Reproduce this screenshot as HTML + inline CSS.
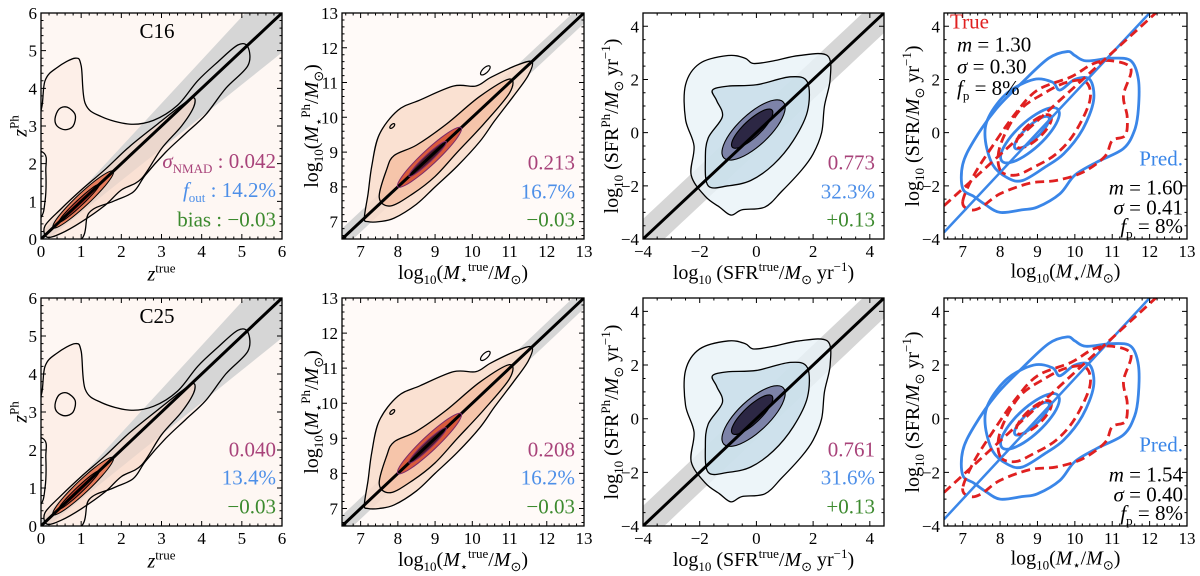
<!DOCTYPE html>
<html><head><meta charset="utf-8">
<style>
body{margin:0;background:#fff;}
#root{position:relative;width:1200px;height:576px;overflow:hidden;font-family:"Liberation Serif",serif;color:#000;}
svg{position:absolute;left:0;top:0;}
svg text{font-family:"Liberation Serif",serif;}
.lab{position:absolute;font-size:20px;white-space:nowrap;line-height:1;}
.lab sub,.lab sup{font-size:13px;}
.ylab{transform:translate(-50%,-50%) rotate(-90deg);}
.xlab{transform:translate(-50%,-50%);}
.st{position:absolute;font-size:21px;white-space:nowrap;line-height:1;transform:translateY(-50%);}
.st sub{font-size:13px;}
</style></head><body>
<div id="root">
<svg id="plot" width="1200" height="576"></svg>
</div>
<script>
// ---------- data ----------
const zOuter=[[0.9,-0.1],[1.2,0.7],[1.8,1.0],[2.3,1.25],[2.6,1.7],[3.1,2.3],[3.6,2.8],[4.1,3.3],[4.6,4.0],[5.15,4.6],[5.15,5.1],[4.9,5.15],[4.4,4.7],[3.9,4.2],[3.4,3.55],[2.8,3.15],[2.2,3.05],[1.5,3.25],[1.1,3.6],[1.0,4.6],[0.85,4.8],[0.4,4.55],[0.1,4.2],[-0.05,3.3],[-0.7,3.0],[-0.7,2.4],[0.05,2.3],[0.12,1.8],[0.1,1.0],[-0.05,0.5],[-0.7,0.0],[-0.7,-0.4]];
const zIsland=[[0.35,3.2],[0.45,3.45],[0.65,3.5],[0.85,3.3],[0.8,3.0],[0.6,2.9],[0.4,3.0]];
const zMid=[[0.1,0.35],[0.5,0.8],[1.0,1.3],[1.6,1.85],[2.2,2.45],[2.9,3.05],[3.5,3.55],[3.8,3.75],[3.8,3.5],[3.5,3.0],[3.0,2.4],[2.5,1.6],[2.0,1.3],[1.6,0.9],[1.0,0.45],[0.5,0.15],[0.15,0.05]];
const zEll=[[1.05,1.05,0.75,0.16],[0.95,0.95,0.5,0.08]];
const mOuter=[[7.1,7.1],[7.2,7.8],[7.3,8.6],[7.5,9.5],[8.0,10.2],[8.6,10.5],[9.5,10.9],[10.1,10.9],[10.5,11.15],[11.2,11.5],[11.6,11.6],[11.5,11.2],[11.1,10.6],[10.6,9.9],[10.2,9.3],[9.6,8.6],[9.0,8.0],[8.5,7.5],[7.9,7.1],[7.5,7.0],[7.2,7.0]];
const mMid=[[7.5,7.7],[7.7,8.5],[7.9,8.9],[8.5,9.2],[9.3,9.8],[10.2,10.6],[11.0,11.1],[11.0,10.7],[10.3,9.8],[9.6,9.0],[9.0,8.3],[8.4,7.8],[7.8,7.45]];
const mEll=[[8.85,8.85,0.85,0.2],[8.8,8.8,0.5,0.1]];
const mBlobs=[[10.35,11.35,0.12,0.07],[7.85,9.75,0.06,0.04]];
const sOuter=[[-0.9,-3.1],[-1.3,-2.8],[-1.8,-2.4],[-2.3,-1.6],[-2.2,-0.5],[-2.5,0.5],[-2.5,1.8],[-2.0,2.6],[-1.0,2.9],[-0.4,2.8],[-0.1,2.6],[0.6,2.7],[1.5,2.9],[2.5,2.9],[2.6,2.0],[2.4,1.0],[2.3,0.0],[2.0,-0.8],[1.6,-1.4],[0.9,-2.2],[0.3,-2.8],[-0.5,-2.9]];
const sMid=[[-1.7,-2.0],[-1.8,-1.0],[-1.7,-0.2],[-1.2,0.6],[-1.4,1.2],[-1.55,1.6],[-1.0,1.75],[0.0,1.8],[1.2,2.1],[1.8,1.9],[1.8,0.8],[1.3,-0.3],[0.6,-1.2],[-0.2,-1.8],[-1.0,-2.0]];
const sEll=[[-0.1,0.1,1.05,0.55],[-0.15,0.15,0.7,0.3]];
const bOuter=[[7.0,-2.1],[7.0,-1.2],[7.3,-0.3],[7.9,0.9],[8.6,1.9],[9.3,2.8],[9.8,3.05],[10.0,2.9],[10.3,2.7],[11.0,2.8],[11.5,2.7],[11.7,2.0],[11.7,0.9],[11.6,0.1],[11.3,-0.6],[10.6,-1.1],[10.0,-1.6],[9.6,-2.3],[9.0,-2.8],[8.6,-2.9],[8.0,-3.0],[7.6,-2.7],[7.3,-2.4]];
const bMid=[[7.8,-1.2],[7.6,-0.2],[7.7,0.6],[8.2,1.5],[8.9,2.0],[9.4,1.9],[9.6,1.6],[10.0,2.0],[10.4,2.0],[10.5,1.2],[10.2,0.1],[9.7,-0.8],[9.2,-1.3],[8.6,-1.8],[8.2,-1.7]];
const bEll=[[8.8,-0.1,0.75,0.35],[8.85,0.0,0.45,0.18]];
const rOuter=[[7.0,-2.6],[7.2,-2.9],[7.5,-2.8],[8.0,-2.3],[8.8,-1.9],[9.5,-1.8],[10.2,-1.5],[10.8,-0.9],[11.0,-0.3],[11.35,-0.1],[11.4,0.6],[11.3,1.4],[11.5,2.4],[11.0,2.7],[10.5,2.6],[9.9,2.1],[9.0,1.6],[8.4,0.7],[7.8,-0.5],[7.3,-1.6]];
const rMid=[[8.0,-1.4],[8.0,-0.5],[8.5,0.8],[9.2,1.5],[9.8,1.9],[10.3,1.9],[10.4,1.2],[10.0,0.0],[9.5,-0.8],[8.9,-1.3],[8.4,-1.6]];
const rEll=[[8.9,0.05,0.45,0.22]];
const predLine=[1.5,9.0,0.0];
const trueLine=[1.28,9.0,0.45];
const bandHalf=[0.15,0.3,0.75];
const xTicks=[[0,1,2,3,4,5,6],[7,8,9,10,11,12,13],[-4,-2,0,2,4],[7,8,9,10,11,12,13]];
const yTicks=[[0,1,2,3,4,5,6],[7,8,9,10,11,12,13],[-4,-2,0,2,4],[-4,-2,0,2,4]];
const statsRow=[[["0.042","14.2%","−0.03"],["0.213","16.7%","−0.03"],["0.773","32.3%","+0.13"]],[["0.040","13.4%","−0.03"],["0.208","16.2%","−0.03"],["0.761","31.6%","+0.13"]]];
const predStats=[["1.60","0.41","8%"],["1.54","0.40","8%"]];
const trueStats=["1.30","0.30","8%"];
const fieldNames=["C16","C25"];

// ---------- layout ----------
const cols=[[41,282],[342,584],[643,884],[944,1187]];
const rows=[[13,239],[298,526]];
const ranges=[[0,6,0,6,0.2],[6.5,13,6.5,13,0.2],[-4,4.5,-4,4.5,0.5],[6.5,13,-4,4.5,0.5]];
const xminor=[0.2,0.2,0.5,0.2];
const svg=document.getElementById('plot');
const root=document.getElementById('root');
const NS='http://www.w3.org/2000/svg';
function mk(tag,at,parent){const e=document.createElementNS(NS,tag);for(const k in at)e.setAttribute(k,at[k]);(parent||svg).appendChild(e);return e;}
function P(r,c){const [x0,x1]=cols[c],[y0,y1]=rows[r],g=ranges[c];return{x0,x1,y0,y1,sx:v=>x0+(v-g[0])/(g[1]-g[0])*(x1-x0),sy:v=>y1-(v-g[2])/(g[3]-g[2])*(y1-y0),g};}
function smooth(pts){const n=pts.length;let d=`M${pts[0][0]},${pts[0][1]}`;for(let i=0;i<n;i++){const p0=pts[(i-1+n)%n],p1=pts[i],p2=pts[(i+1)%n],p3=pts[(i+2)%n];d+=`C${p1[0]+(p2[0]-p0[0])/6},${p1[1]+(p2[1]-p0[1])/6} ${p2[0]-(p3[0]-p1[0])/6},${p2[1]-(p3[1]-p1[1])/6} ${p2[0]},${p2[1]}`;}return d+'Z';}
function toPx(p,arr){return arr.map(q=>[p.sx(q[0]),p.sy(q[1])]);}
function ellPx(p,e,slope){const [cx,cy,a,b]=e;const c=[p.sx(cx),p.sy(cy)];const ux=p.sx(cx+a)-c[0],uy=p.sy(cy+a*slope)-c[1];const L=Math.hypot(ux,uy);const nx=-uy/L,ny=ux/L;const wb=b*(p.x1-p.x0)/(p.g[1]-p.g[0]);const out=[];for(let i=0;i<24;i++){const t=i/24*2*Math.PI;out.push([c[0]+Math.cos(t)*ux+Math.sin(t)*nx*wb,c[1]+Math.cos(t)*uy+Math.sin(t)*ny*wb]);}return out;}
function path(g,d,at,name){const e=mk('path',Object.assign({d},at),g);return e;}

function frame(p,r,c){
  const g=mk('g',{});
  mk('rect',{x:p.x0,y:p.y0,width:p.x1-p.x0,height:p.y1-p.y0,fill:'none',stroke:'#000','stroke-width':1.3},g);
  const gr=p.g;let d='';
  for(let v=Math.ceil(gr[0]/xminor[c]-1e-6)*xminor[c];v<=gr[1]+1e-6;v+=xminor[c]){const x=p.sx(v);const maj=xTicks[c].some(t=>Math.abs(t-v)<1e-6);const L=maj?5:2.5;d+=`M${x},${p.y1}v${-L}M${x},${p.y0}v${L}`;}
  for(let v=Math.ceil(gr[2]/gr[4]-1e-6)*gr[4];v<=gr[3]+1e-6;v+=gr[4]){const y=p.sy(v);const maj=yTicks[c].some(t=>Math.abs(t-v)<1e-6);const L=maj?5:2.5;d+=`M${p.x0},${y}h${L}M${p.x1},${y}h${-L}`;}
  mk('path',{d,stroke:'#000','stroke-width':1,fill:'none'},g);
  xTicks[c].forEach(v=>{const t=mk('text',{x:p.sx(v),y:p.y1+18,'text-anchor':'middle','font-size':17,style:'font-family:"Liberation Serif",serif'},g);t.textContent=String(v).replace('-','−');});
  yTicks[c].forEach(v=>{const t=mk('text',{x:p.x0-4,y:p.sy(v)+6,'text-anchor':'end','font-size':17,style:'font-family:"Liberation Serif",serif'},g);t.textContent=String(v).replace('-','−');});
}
function clipG(p,id){const cp=mk('clipPath',{id});mk('rect',{x:p.x0,y:p.y0,width:p.x1-p.x0,height:p.y1-p.y0},cp);const g=mk('g',{'clip-path':`url(#${id})`});return g;}
function band(g,p,c){const gr=p.g,h=bandHalf[c];const lo=[],hi=[];for(let i=0;i<=20;i++){const v=gr[0]+(gr[1]-gr[0])*i/20;const w=c===0?h*(1+v):h;hi.push([p.sx(v),p.sy(v+w)]);lo.unshift([p.sx(v),p.sy(v-w)]);}
  const e=mk('polygon',{points:hi.concat(lo).map(q=>q.join(',')).join(' '),fill:'#d6d6d6'},g);}
function oneToOne(g,p){const gr=p.g;const e=mk('line',{x1:p.sx(gr[0]),y1:p.sy(gr[0]),x2:p.sx(gr[1]),y2:p.sy(gr[1]),stroke:'#000','stroke-width':3},g);}

function html(cls,x,y,inner,name,style){const d=document.createElement('div');d.className=cls;d.style.left=x+'px';d.style.top=y+'px';if(style)d.style.cssText+=style;d.innerHTML=inner;root.appendChild(d);return d;}

const yl=['<i>z</i><sup>Ph</sup>','log<sub>10</sub>(<i>M</i><sub>⋆</sub><sup>Ph</sup>/<i>M</i><sub>⊙</sub>)','log<sub>10</sub> (SFR<sup>Ph</sup>/<i>M</i><sub>⊙</sub> yr<sup>−1</sup>)','log<sub>10</sub> (SFR/<i>M</i><sub>⊙</sub> yr<sup>−1</sup>)'];
const xl=['<i>z</i><sup>true</sup>','log<sub>10</sub>(<i>M</i><sub>⋆</sub><sup>true</sup>/<i>M</i><sub>⊙</sub>)','log<sub>10</sub> (SFR<sup>true</sup>/<i>M</i><sub>⊙</sub> yr<sup>−1</sup>)','log<sub>10</sub>(<i>M</i><sub>⋆</sub>/<i>M</i><sub>⊙</sub>)'];
const yOff=[22,30,31,31];
const statCols=['#a8437a','#4d8fe8','#3c8a2e'];

for(let r=0;r<2;r++){for(let c=0;c<4;c++){
  const p=P(r,c);const g=clipG(p,`clip${r}${c}`);
  if(c===0){
    mk('rect',{x:p.x0,y:p.y0,width:p.x1-p.x0,height:p.y1-p.y0,fill:'#fef7f3'},g);
    path(g,smooth(toPx(p,zOuter)),{fill:'#fdefe8'},'density-outer');
    band(g,p,c);
    path(g,smooth(toPx(p,zMid)),{fill:'#f8d7c6','fill-opacity':0.6},'density-mid');
    path(g,smooth(ellPx(p,zEll[0],1)),{fill:'#e67c5c'},'density-inner');
    path(g,smooth(ellPx(p,zEll[1],1)),{fill:'#b53a2c'},'density-core');
    oneToOne(g,p);
    [zOuter,zIsland,zMid].forEach(a=>path(g,smooth(toPx(p,a)),{fill:'none',stroke:'#000','stroke-width':1.3},'contour'));
    zEll.forEach(e=>path(g,smooth(ellPx(p,e,1)),{fill:'none',stroke:'#000','stroke-width':1},'contour'));
  } else if(c===1){
    mk('rect',{x:p.x0,y:p.y0,width:p.x1-p.x0,height:p.y1-p.y0,fill:'#fffaf8'},g);
    band(g,p,c);
    path(g,smooth(toPx(p,mOuter)),{fill:'#f9dccb','fill-opacity':0.85},'density-outer');
    path(g,smooth(toPx(p,mMid)),{fill:'#f4c0a3','fill-opacity':0.85},'density-mid');
    path(g,smooth(ellPx(p,mEll[0],1)),{fill:'#d95a3c'},'density-inner');
    path(g,smooth(ellPx(p,mEll[1],1)),{fill:'#4a1a28'},'density-core');
    oneToOne(g,p);
    [mOuter,mMid].forEach(a=>path(g,smooth(toPx(p,a)),{fill:'none',stroke:'#000','stroke-width':1.3},'contour'));
    mEll.forEach(e=>path(g,smooth(ellPx(p,e,1)),{fill:'none',stroke:'#7a2a6a','stroke-width':1},'contour'));
    mBlobs.forEach(e=>path(g,smooth(ellPx(p,e,1)),{fill:'none',stroke:'#000','stroke-width':1.2},'contour-blob'));
  } else if(c===2){
    band(g,p,c);
    path(g,smooth(toPx(p,sOuter)),{fill:'#e9f2f7','fill-opacity':0.8},'density-outer');
    path(g,smooth(toPx(p,sMid)),{fill:'#c6dce8','fill-opacity':0.8},'density-mid');
    path(g,smooth(ellPx(p,sEll[0],1)),{fill:'#7d83a8'},'density-inner');
    path(g,smooth(ellPx(p,sEll[1],1)),{fill:'#2c2744'},'density-core');
    oneToOne(g,p);
    [sOuter,sMid].forEach(a=>path(g,smooth(toPx(p,a)),{fill:'none',stroke:'#000','stroke-width':1.3},'contour'));
    sEll.forEach(e=>path(g,smooth(ellPx(p,e,1)),{fill:'none',stroke:'#000','stroke-width':1.1},'contour'));
  } else {
    const gr=p.g;
    const ln=(L,at,name)=>{const e=mk('line',Object.assign({x1:p.sx(gr[0]),y1:p.sy(L[2]+L[0]*(gr[0]-L[1])),x2:p.sx(gr[1]),y2:p.sy(L[2]+L[0]*(gr[1]-L[1]))},at),g);};
    const blue={fill:'none',stroke:'#3a86e8','stroke-width':2.8};
    const red={fill:'none',stroke:'#e02020','stroke-width':2.8,'stroke-dasharray':'9 5'};
    [bOuter,bMid].forEach(a=>path(g,smooth(toPx(p,a)),blue,'pred-contour'));
    bEll.forEach(e=>path(g,smooth(ellPx(p,e,1.3)),blue,'pred-contour'));
    [rOuter,rMid].forEach(a=>path(g,smooth(toPx(p,a)),red,'true-contour'));
    rEll.forEach(e=>path(g,smooth(ellPx(p,e,1.3)),red,'true-contour'));
    ln(predLine,{stroke:'#3a86e8','stroke-width':2.5},'pred-fit-line');
    ln(trueLine,{stroke:'#e02020','stroke-width':2.8,'stroke-dasharray':'9 5'},'true-fit-line');
  }
  frame(p,r,c);
  html('lab ylab',p.x0-yOff[c],(p.y0+p.y1)/2,yl[c],'y-axis-title');
  html('lab xlab',(p.x0+p.x1)/2,p.y1+34,xl[c],'x-axis-title');
  const H=p.y1-p.y0;
  if(c<3){
    const vals=statsRow[r][c];
    const pre=(c===0&&r===0)?['<i>σ</i><sub>NMAD</sub> : ','<i>f</i><sub>out</sub> : ','bias : ']:['','',''];
    vals.forEach((v,i)=>{html('st',0,p.y0+H*(0.665+i*0.125),pre[i]+v,'stat-value',`right:${1200-p.x1+(c===0?6:9)}px;left:auto;color:${statCols[i]}`);});
  }
  if(c===0)html('lab',(p.x0+p.x1)/2-22,p.y0+8,fieldNames[r],'field-label','font-size:21px');
  if(c===3){
    const ps=predStats[r];
    html('st',0,p.y0+H*0.645,'Pred.','pred-legend',`right:${1200-p.x1+4}px;left:auto;color:#3a86e8`);
    html('st',0,p.y0+H*0.775,'<i>m</i> = '+ps[0],'pred-slope',`right:${1200-p.x1+4}px;left:auto`);
    html('st',0,p.y0+H*0.865,'<i>σ</i> = '+ps[1],'pred-sigma',`right:${1200-p.x1+4}px;left:auto`);
    html('st',0,p.y0+H*0.95,'<i>f</i><sub>p</sub> = '+ps[2],'pred-fp',`right:${1200-p.x1+4}px;left:auto`);
    if(r===0){
      html('st',p.x0+6,p.y0+H*0.04,'True','true-legend','color:#e02020');
      html('st',p.x0+13,p.y0+H*0.14,'<i>m</i> = '+trueStats[0],'true-slope');
      html('st',p.x0+13,p.y0+H*0.24,'<i>σ</i> = '+trueStats[1],'true-sigma');
      html('st',p.x0+13,p.y0+H*0.34,'<i>f</i><sub>p</sub> = '+trueStats[2],'true-fp');
    }
  }
}}
</script>
</body></html>
